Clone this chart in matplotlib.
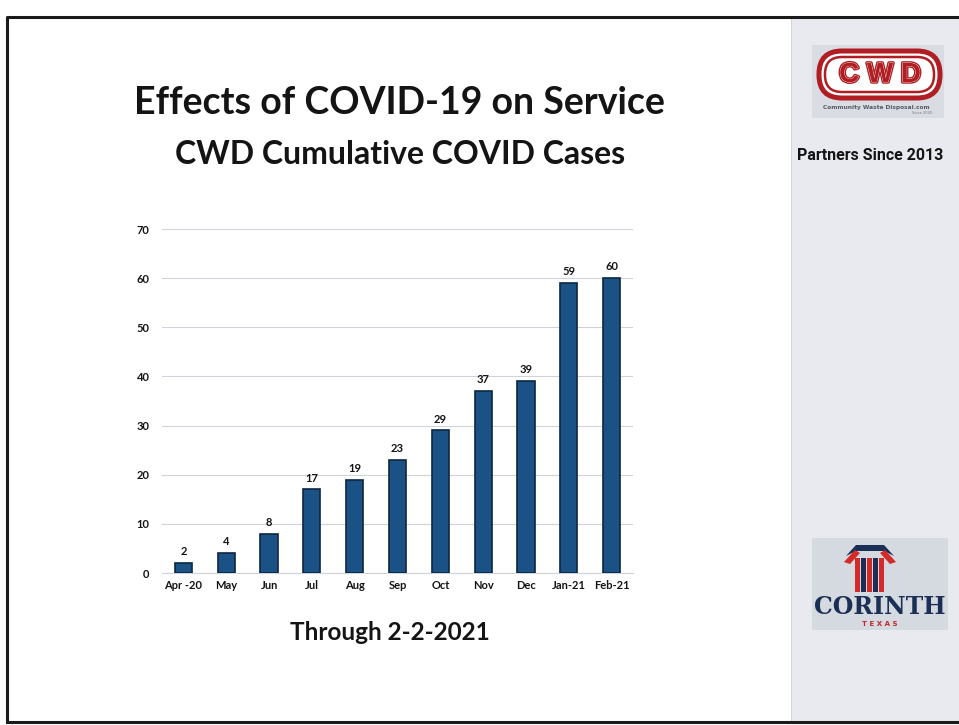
import matplotlib
matplotlib.use("Agg")
import matplotlib.pyplot as plt
import matplotlib.patheffects as pe
from matplotlib.patches import Rectangle, FancyBboxPatch, Polygon
import numpy as np

months = ["Apr -20", "May", "Jun", "Jul", "Aug", "Sep", "Oct", "Nov", "Dec", "Jan-21", "Feb-21"]
cases = [2, 4, 8, 17, 19, 23, 29, 37, 39, 59, 60]
yticks = [0, 10, 20, 30, 40, 50, 60, 70]

title = "Effects of COVID-19 on Service"
subtitle = "CWD Cumulative COVID Cases"
footnote = "Through 2-2-2021"

W, H = 959, 725
fig = plt.figure(figsize=(W / 100, H / 100), dpi=100)
fig.patch.set_facecolor("white")

bg = fig.add_axes([0, 0, 1, 1], zorder=0)
bg.set_xlim(0, W)
bg.set_ylim(H, 0)
bg.axis("off")

# right grey panel
bg.add_patch(Rectangle((791, 18), 170, 704, facecolor="#e8eaef", edgecolor="none"))
bg.plot([791, 791], [18, 722], color="#cdd0d6", lw=0.6)
# border
bg.plot([7, 7, W + 5], [722, 17, 17], color="#1a1a1a", lw=2.2, solid_capstyle="butt")
bg.plot([7, W + 5], [722, 722], color="#1a1a1a", lw=2.2)

# CWD logo
bg.add_patch(Rectangle((812, 45), 132, 73, facecolor="#d9dce2", edgecolor="none"))
bg.add_patch(FancyBboxPatch((819, 51), 121, 47, boxstyle="round,pad=0,rounding_size=23",
                            facecolor="white", edgecolor="#b01e23", lw=3.6))
bg.add_patch(FancyBboxPatch((825, 57), 109, 35, boxstyle="round,pad=0,rounding_size=17",
                            facecolor="white", edgecolor="#b01e23", lw=1.8))
bg.text(880, 75, "C W D", color="#b01e23", fontsize=20, fontweight="bold",
        family="Liberation Sans", ha="center", va="center",
        path_effects=[pe.withStroke(linewidth=2.5, foreground="#b01e23"),
                      pe.withStroke(linewidth=0.5, foreground="white")])
bg.text(876, 107, "Community Waste Disposal.com", color="#555a66", fontsize=4.2,
        ha="center", va="center", family="DejaVu Sans", fontweight="bold")
bg.text(932, 113, "Since 2000", color="#777a85", fontsize=2.6, ha="right", va="center")
bg.text(870, 155, "Partners Since 2013", color="#141414", fontsize=11.5, fontweight="bold",
        family="Roboto", ha="center", va="center")

# Corinth logo
bg.add_patch(Rectangle((812, 538), 136, 92, facecolor="#d5d9e0", edgecolor="none"))
for i, xx in enumerate([855, 861, 867, 873, 879]):
    col = "#d42a2a" if i % 2 == 0 else "#1b2f55"
    bg.add_patch(Rectangle((xx, 558), 4.5, 34, facecolor=col, edgecolor="none"))
bg.add_patch(Polygon([[846, 556], [856, 545], [884, 545], [894, 556], [884, 551], [856, 551]],
                     closed=True, facecolor="#1b2f55", edgecolor="none"))
bg.add_patch(Polygon([[844, 562], [855, 550], [860, 553], [850, 564]], closed=True,
                     facecolor="#d42a2a", edgecolor="none"))
bg.add_patch(Polygon([[896, 562], [885, 550], [880, 553], [890, 564]], closed=True,
                     facecolor="#d42a2a", edgecolor="none"))
bg.text(880, 607, "CORINTH", color="#1b2f55", fontsize=17, fontweight="bold",
        family="DejaVu Serif", ha="center", va="center")
bg.text(880, 624, "T E X A S", color="#c0282a", fontsize=5, fontweight="bold",
        ha="center", va="center")

# titles
fig.text(399 / W, 1 - 103 / H, title, fontsize=27, fontweight="bold", family="Lato",
         ha="center", va="center", color="#141414")
fig.text(400 / W, 1 - 155 / H, subtitle, fontsize=23, fontweight="bold", family="Lato",
         ha="center", va="center", color="#141414")
fig.text(390 / W, 1 - 633 / H, footnote, fontsize=17.5, fontweight="bold", family="Lato",
         ha="center", va="center", color="#141414")

# chart
ax = fig.add_axes([162 / W, 152 / H, (633 - 162) / W, (573 - 229) / H], zorder=1)
ax.patch.set_alpha(0)
x = np.arange(len(months))
ax.bar(x, cases, width=0.4, color="#1b5286", edgecolor="#0c2740", linewidth=1.2, zorder=3)
for xi, v in zip(x, cases):
    ax.text(xi, v + 1.2, str(v), ha="center", va="bottom", fontsize=8, fontweight="bold",
            family="Lato", color="#141414")
ax.set_xlim(-0.5, len(months) - 0.5)
ax.set_ylim(0, 70)
ax.set_yticks(yticks)
ax.set_yticklabels([str(t) for t in yticks], fontsize=8, fontweight="bold", family="Lato")
ax.set_xticks(x)
ax.set_xticklabels(months, fontsize=8, fontweight="bold", family="Lato")
ax.tick_params(length=0, pad=9, colors="#141414")
ax.tick_params(axis="x", pad=5)
ax.grid(axis="y", color="#cfd3da", lw=0.8, zorder=0)
for s in ["top", "right", "left"]:
    ax.spines[s].set_visible(False)
ax.spines["bottom"].set_color("#cfd3da")

fig.savefig("out.png", dpi=100, facecolor="white")
